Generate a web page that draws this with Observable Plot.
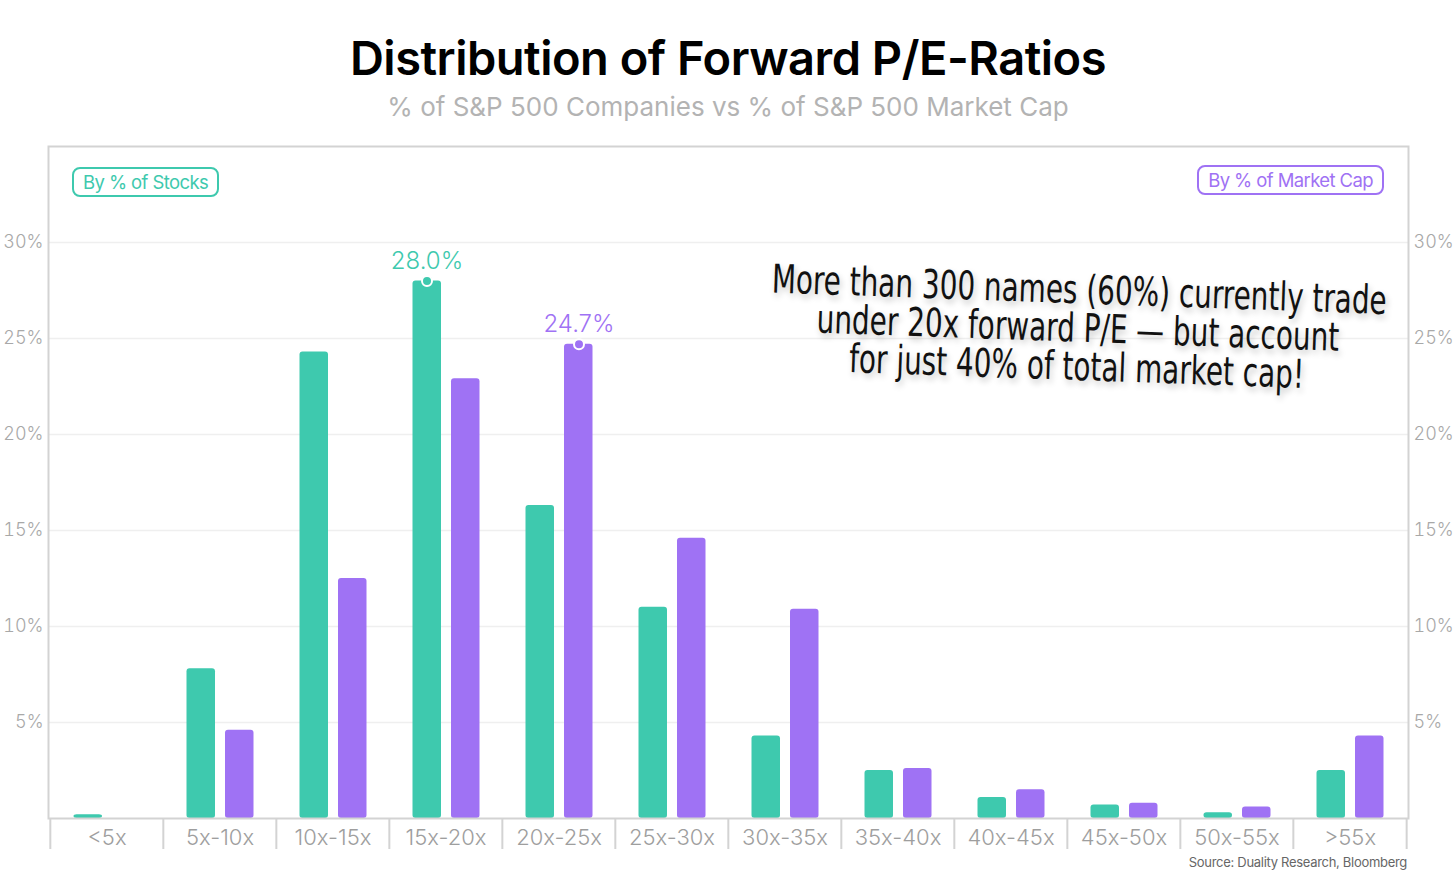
<!DOCTYPE html>
<html>
<head>
<meta charset="utf-8">
<script src="https://cdn.jsdelivr.net/npm/d3@7"></script>
<script src="https://cdn.jsdelivr.net/npm/@observablehq/plot@0.6"></script>
<style>
  html, body { margin: 0; padding: 0; background: #fff; }
  #page { position: relative; width: 1456px; height: 874px; overflow: hidden; font-family: Inter, "Noto Sans", sans-serif; }
  #title { position: absolute; left: 0; width: 1456px; top: 30px; text-align: center; font-size: 47px; font-weight: 600; letter-spacing: -0.5px; color: #000; line-height: 56px; }
  #subtitle { position: absolute; left: 0; width: 1456px; top: 90px; text-align: center; font-size: 26px; font-weight: 400; color: #b3b3b3; line-height: 34px; letter-spacing: 0px; }
  #chart { position: absolute; left: 0; top: 120px; }
  .badge { position: absolute; height: 26px; line-height: 26px; padding: 0 9px; border-radius: 8px; font-size: 18.5px; letter-spacing: -0.6px; background: #fff; }
  #badge-stocks { left: 72px; top: 167px; border: 2px solid #3ec9ae; color: #3ec9ae; }
  #badge-cap { right: 72px; top: 165px; border: 2px solid #9f72f4; color: #9f72f4; }
  #note { position: absolute; left: 760px; top: 270px; width: 640px; text-align: center; font-family: "Liberation Sans Narrow", "DejaVu Sans Condensed", "Arial Narrow", sans-serif; font-stretch: condensed; font-size: 31px; line-height: 30px; color: #111; transform: rotate(2deg) scale(1, 1.28); transform-origin: center top; text-shadow: 2px 3px 6px rgba(0,0,0,0.22); }
  #source { position: absolute; right: 49px; top: 854px; font-size: 13px; color: #666; letter-spacing: -0.3px; }
</style>
</head>
<body>
<div id="page">
  <div id="title">Distribution of Forward P/E-Ratios</div>
  <div id="subtitle">% of S&amp;P 500 Companies vs % of S&amp;P 500 Market Cap</div>
  <div id="chart"></div>
  <div class="badge" id="badge-stocks">By % of Stocks</div>
  <div class="badge" id="badge-cap">By % of Market Cap</div>
  <div id="note">More than 300 names (60%) currently trade<br>under 20x forward P/E — but account<br>for just 40% of total market cap!</div>
  <div id="source">Source: Duality Research, Bloomberg</div>
</div>
<script>
// ---- data ----
const categories = ["<5x", "5x-10x", "10x-15x", "15x-20x", "20x-25x", "25x-30x", "30x-35x", "35x-40x", "40x-45x", "45x-50x", "50x-55x", ">55x"];
const pctOfStocks = [0.2, 7.8, 24.3, 28.0, 16.3, 11.0, 4.3, 2.5, 1.1, 0.7, 0.3, 2.5];
const pctOfMarketCap = [0.0, 4.6, 12.5, 22.9, 24.7, 14.6, 10.9, 2.6, 1.5, 0.8, 0.6, 4.3];
const yTicks = [5, 10, 15, 20, 25, 30];

const teal = "#3ec9ae";
const purple = "#9f72f4";
const axisGray = "#d3d3d3";
const labelGray = "#ababab";

const stocks = categories.map((c, i) => ({cat: c, value: pctOfStocks[i]}));
const mcap = categories.map((c, i) => ({cat: c, value: pctOfMarketCap[i]}));
const maxStocks = stocks.filter(d => d.value === d3.max(pctOfStocks));
const maxMcap = mcap.filter(d => d.value === d3.max(pctOfMarketCap));

const W = 1456, mL = 48, mR = 48;
const step = (W - mL - mR) / categories.length;

const chart = Plot.plot({
  width: W,
  height: 740,
  marginLeft: mL,
  marginRight: mR,
  marginTop: 26,
  marginBottom: 42,
  style: {fontFamily: "Inter, 'Noto Sans', sans-serif", overflow: "visible", background: "transparent"},
  x: {domain: categories, padding: 0},
  y: {domain: [0, 35]},
  marks: [
    Plot.gridY(yTicks, {stroke: "#efefef", strokeOpacity: 1, strokeWidth: 1.5}),
    Plot.barY(stocks, {x: "cat", y: "value", fill: teal, insetLeft: 23.5, insetRight: 61, rx: 3}),
    Plot.barY(mcap, {x: "cat", y: "value", fill: purple, insetLeft: 62, insetRight: 22.5, rx: 3}),
    Plot.frame({stroke: axisGray, strokeWidth: 2}),
    Plot.axisY(yTicks, {anchor: "left", tickSize: 0, tickPadding: 5, tickFormat: d => d + "%", fontSize: 18, fontWeight: 300, color: "#a8a8a8", label: null}),
    Plot.axisY(yTicks, {anchor: "right", tickSize: 0, tickPadding: 5, tickFormat: d => d + "%", fontSize: 18, fontWeight: 300, color: "#a8a8a8", label: null}),
    Plot.axisX({tickSize: 31, tickFormat: () => "", dx: -step / 2, stroke: axisGray, strokeWidth: 2, label: null}),
    Plot.axisX([categories[categories.length - 1]], {tickSize: 31, tickFormat: () => "", dx: step / 2, stroke: axisGray, strokeWidth: 2, label: null}),
    Plot.axisX({tickSize: 0, tickPadding: 11, fontSize: 22, fontWeight: 300, color: "#9e9e9e", label: null}),
    Plot.dot(maxStocks, {x: "cat", y: "value", dx: -19, r: 5, fill: teal, stroke: "#fff", strokeWidth: 2}),
    Plot.dot(maxMcap, {x: "cat", y: "value", dx: 20, r: 5, fill: purple, stroke: "#fff", strokeWidth: 2}),
    Plot.text(maxStocks, {x: "cat", y: "value", dx: -19, dy: -20, text: d => d.value.toFixed(1) + "%", fill: teal, fontSize: 24, fontWeight: 300}),
    Plot.text(maxMcap, {x: "cat", y: "value", dx: 20, dy: -20, text: d => d.value.toFixed(1) + "%", fill: purple, fontSize: 24, fontWeight: 300})
  ]
});
document.getElementById("chart").appendChild(chart);
</script>
</body>
</html>
